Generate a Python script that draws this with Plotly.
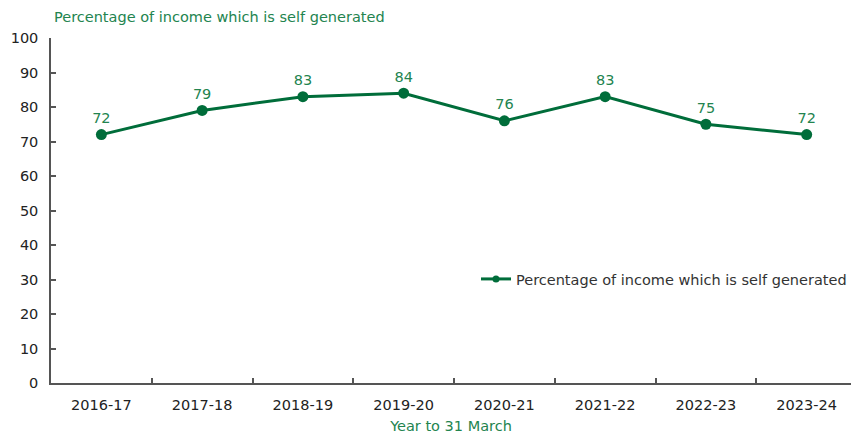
import plotly.graph_objects as go

years = ["2016-17", "2017-18", "2018-19", "2019-20", "2020-21", "2021-22", "2022-23", "2023-24"]
self_generated_pct = [72, 79, 83, 84, 76, 83, 75, 72]
y_ticks = [0, 10, 20, 30, 40, 50, 60, 70, 80, 90, 100]

series_name = "Percentage of income which is self generated"
line_green = "#006d3a"
label_green = "#23844f"
axis_grey = "#555555"
font_family = "DejaVu Sans, Verdana, sans-serif"
fs = 14.5

fig = go.Figure()
fig.add_trace(go.Scatter(
    x=years,
    y=self_generated_pct,
    mode="lines+markers+text",
    name=series_name,
    showlegend=False,
    line=dict(color=line_green, width=3),
    marker=dict(color=line_green, size=11),
    text=[str(v) for v in self_generated_pct],
    textposition="top center",
    textfont=dict(color=label_green, size=fs, family=font_family),
    cliponaxis=False,
))
# legend entry with a smaller marker glyph
fig.add_trace(go.Scatter(
    x=[None], y=[None],
    mode="lines+markers",
    name=series_name,
    line=dict(color=line_green, width=3),
    marker=dict(color=line_green, size=7),
    showlegend=True,
))

fig.update_layout(
    width=851,
    height=434,
    margin=dict(l=51, r=0, t=38, b=51, autoexpand=False),
    paper_bgcolor="white",
    plot_bgcolor="white",
    font=dict(family=font_family, size=fs, color="#222222"),
    showlegend=True,
    legend=dict(
        x=(476 - 51) / 800, y=(383 - 279) / 345, xanchor="left", yanchor="middle",
        bgcolor="rgba(0,0,0,0)",
        font=dict(size=fs, color="#333333"),
        itemwidth=30,
    ),
    annotations=[dict(
        text=series_name, xref="paper", yref="paper",
        x=(52 - 51) / 800, y=1 + (38 - 17) / 345,
        showarrow=False, xanchor="left", yanchor="middle",
        font=dict(size=fs, color=label_green),
    )],
)

fig.update_xaxes(
    type="category",
    range=[-0.5, 7.44],
    showline=True, linecolor=axis_grey, linewidth=1.5,
    showgrid=False, zeroline=False,
    ticks="inside", ticklen=5, tickcolor=axis_grey, tickwidth=1.5,
    tickson="boundaries",
    tickfont=dict(size=fs, color="#222222"),
    ticklabelstandoff=8,
    title=dict(text="Year to 31 March", font=dict(size=fs, color=label_green), standoff=10),
)
fig.update_yaxes(
    range=[0, 100],
    tickvals=y_ticks,
    showline=True, linecolor=axis_grey, linewidth=1.5,
    showgrid=False, zeroline=False,
    ticks="inside", ticklen=5, tickcolor=axis_grey, tickwidth=1.5,
    tickfont=dict(size=fs, color="#222222"),
    ticklabelstandoff=8,
)

fig.write_html("out.html")
